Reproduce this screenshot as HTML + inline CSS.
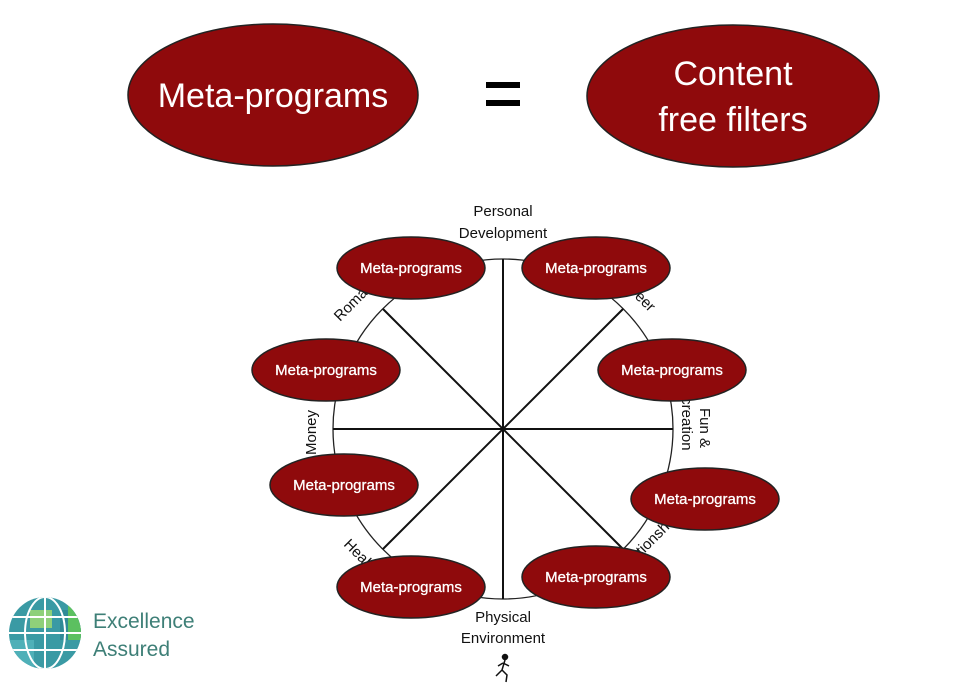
<!DOCTYPE html>
<html><head><meta charset="utf-8"><style>
html,body{margin:0;padding:0;background:#fff;}
svg{display:block;font-family:"Liberation Sans",sans-serif;}
</style></head><body>
<svg width="972" height="683" viewBox="0 0 972 683" xmlns="http://www.w3.org/2000/svg">
<rect width="972" height="683" fill="#fff"/>
<ellipse cx="273" cy="95" rx="145" ry="71" fill="#8f0a0c" stroke="#222" stroke-width="1.5"/>
<text x="273" y="107" font-size="34" fill="#fff" text-anchor="middle">Meta-programs</text>
<rect x="486" y="82" width="34" height="6" fill="#000"/>
<rect x="486" y="100" width="34" height="6" fill="#000"/>
<ellipse cx="733" cy="96" rx="146" ry="71" fill="#8f0a0c" stroke="#222" stroke-width="1.5"/>
<text x="733" y="85" font-size="34" fill="#fff" text-anchor="middle">Content</text>
<text x="733" y="131" font-size="34" fill="#fff" text-anchor="middle">free filters</text>
<circle cx="503" cy="429" r="170" fill="none" stroke="#222" stroke-width="1.3"/>
<g stroke="#111" stroke-width="2">
<line x1="503" y1="259" x2="503" y2="599"/>
<line x1="333" y1="429" x2="673" y2="429"/>
<line x1="383" y1="309" x2="623" y2="549"/>
<line x1="623" y1="309" x2="383" y2="549"/>
</g>
<g font-size="15" fill="#111">
<text x="503" y="216" text-anchor="middle">Personal</text>
<text x="503" y="238" text-anchor="middle">Development</text>
<text x="503" y="622" text-anchor="middle">Physical</text>
<text x="503" y="643" text-anchor="middle">Environment</text>
<text transform="translate(340,322) rotate(-45)">Romance</text>
<text transform="translate(617,280) rotate(45)">Career</text>
<text transform="translate(316,455) rotate(-90)">Money</text>
<text transform="translate(700,408) rotate(90)">Fun &amp;</text>
<text transform="translate(682,378) rotate(90)">Recreation</text>
<text transform="translate(343,545) rotate(45)">Health</text>
<text transform="translate(620,578) rotate(-45)">Relationships</text>
</g>
<g stroke="#111" stroke-width="1.5" fill="none">
<circle cx="505" cy="657" r="2.5" fill="#111"/>
<path d="M505 660 L502 670 L496 676 M502 670 L507 675 L506 682 M503 663 L498 666 M503 663 L509 666"/>
</g>
<g fill="#8f0a0c" stroke="#222" stroke-width="1.5">
<ellipse cx="411" cy="268" rx="74" ry="31"/>
<ellipse cx="596" cy="268" rx="74" ry="31"/>
<ellipse cx="326" cy="370" rx="74" ry="31"/>
<ellipse cx="672" cy="370" rx="74" ry="31"/>
<ellipse cx="344" cy="485" rx="74" ry="31"/>
<ellipse cx="705" cy="499" rx="74" ry="31"/>
<ellipse cx="411" cy="587" rx="74" ry="31"/>
<ellipse cx="596" cy="577" rx="74" ry="31"/>
</g>
<g font-size="15" fill="#fff" text-anchor="middle" stroke="#fff" stroke-width="0.3">
<text x="411" y="273">Meta-programs</text>
<text x="596" y="273">Meta-programs</text>
<text x="326" y="375">Meta-programs</text>
<text x="672" y="375">Meta-programs</text>
<text x="344" y="490">Meta-programs</text>
<text x="705" y="504">Meta-programs</text>
<text x="411" y="592">Meta-programs</text>
<text x="596" y="582">Meta-programs</text>
</g>
<defs><clipPath id="g"><circle cx="45" cy="633" r="36"/></clipPath></defs>
<g clip-path="url(#g)">
<rect x="9" y="597" width="72" height="72" fill="#3a9aa4"/>
<rect x="30" y="610" width="22" height="18" fill="#8fd07a"/>
<rect x="60" y="610" width="22" height="30" fill="#2f8a96"/>
<rect x="9" y="640" width="25" height="30" fill="#4fb0b8"/>
<rect x="68" y="600" width="14" height="40" fill="#5cc060"/>
<g stroke="#fff" stroke-width="2" fill="none">
<line x1="9" y1="617" x2="81" y2="617"/>
<line x1="9" y1="633" x2="81" y2="633"/>
<line x1="9" y1="650" x2="81" y2="650"/>
<line x1="45" y1="597" x2="45" y2="669"/>
<ellipse cx="45" cy="633" rx="20" ry="36"/>
</g>
</g>
<text x="93" y="628" font-size="21" fill="#3e7f77">Excellence</text>
<text x="93" y="656" font-size="21" fill="#3e7f77">Assured</text>
</svg>
</body></html>
